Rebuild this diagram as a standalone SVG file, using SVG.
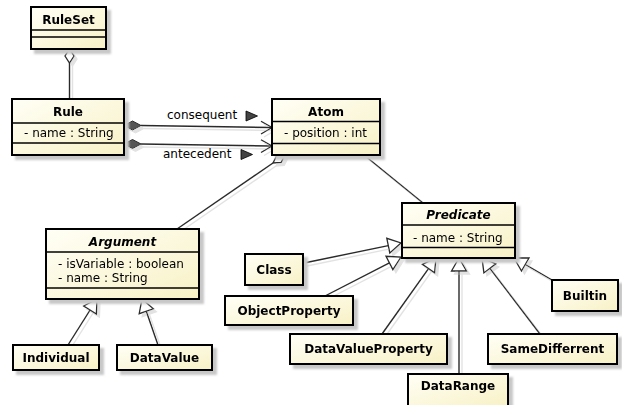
<svg xmlns="http://www.w3.org/2000/svg" width="622" height="405" viewBox="0 0 622 405">
<style>
  .box { fill: url(#cream); stroke: #000; stroke-width: 2; }
  .div { stroke: #000; stroke-width: 1.3; }
  .title { font-family: "DejaVu Sans", "Liberation Sans", sans-serif; font-size: 12px; font-weight: bold; text-anchor: middle; fill: #000; }
  .abs { font-style: italic; }
  .attr { font-family: "DejaVu Sans", "Liberation Sans", sans-serif; font-size: 12px; fill: #000; }
  .lbl { font-family: "DejaVu Sans", "Liberation Sans", sans-serif; font-size: 12px; fill: #000; }
  .conn { fill: none; stroke: #2a2a2a; stroke-width: 1.4; }
  .hollow { fill: #fff; stroke: #2a2a2a; stroke-width: 1.3; stroke-linejoin: miter; }
  .filled { fill: #555; stroke: #2a2a2a; stroke-width: 1; }
  .open { fill: none; stroke: #2a2a2a; stroke-width: 1.3; }
  .dir { fill: #444; stroke: #000; stroke-width: 0.8; }
</style>
<defs>
  <linearGradient id="cream" x1="0" y1="0" x2="1" y2="1">
    <stop offset="0" stop-color="#FFFFF6"/>
    <stop offset="1" stop-color="#F8F1C6"/>
  </linearGradient>
  <filter id="shadow" x="-10%" y="-10%" width="130%" height="140%">
    <feOffset in="SourceAlpha" dx="4" dy="4" result="o"/>
    <feGaussianBlur in="o" stdDeviation="1" result="b"/>
    <feFlood flood-color="#c8c8c8"/>
    <feComposite in2="b" operator="in" result="s"/>
    <feMerge><feMergeNode in="s"/><feMergeNode in="SourceGraphic"/></feMerge>
  </filter>
  <filter id="lshadow" x="-10%" y="-10%" width="130%" height="130%">
    <feOffset in="SourceAlpha" dx="3" dy="3" result="o"/>
    <feFlood flood-color="#e2e2e2"/>
    <feComposite in2="o" operator="in" result="s"/>
    <feMerge><feMergeNode in="s"/><feMergeNode in="SourceGraphic"/></feMerge>
  </filter>
</defs>

<g id="connectors">
  <g filter="url(#lshadow)">
    <!-- RuleSet <>- Rule -->
    <path class="conn" d="M69.5,63 L69.5,99"/>
    <polygon class="hollow" points="69.5,49 74,56 69.5,63 65,56"/>
    <!-- consequent -->
    <path class="conn" d="M141,125.5 L272,127.5"/>
    <polygon class="filled" points="124,125.5 132.5,121 141,125.5 132.5,130"/>
    <polyline class="open" points="261,121.3 272,127.5 261,134"/>
    <!-- antecedent -->
    <path class="conn" d="M141,144 L272,146"/>
    <polygon class="filled" points="124,144 132.5,139.5 141,144 132.5,148.5"/>
    <polyline class="open" points="261,139.8 272,146 261,152.5"/>
    <!-- Atom <>- Argument -->
    <path class="conn" d="M273,163 L177,229"/>
    <polygon class="hollow" points="285,155 281.2,162.3 273,163 276.8,155.7"/>
    <!-- Atom - Predicate -->
    <path class="conn" d="M364,155 L423,203"/>
    <!-- generalizations -->
    <path class="conn" d="M68,345 L90.1,310"/>
    <polygon class="hollow" points="97,299 96.4,314 83.7,306"/>
    <path class="conn" d="M158,345 L146.3,311.3"/>
    <polygon class="hollow" points="142,299 153.35,308.8 139.2,313.7"/>
    <path class="conn" d="M304,263 L388.3,245.6"/>
    <polygon class="hollow" points="401,243 389.8,253 386.8,238.3"/>
    <path class="conn" d="M325,296 L389.4,262.9"/>
    <polygon class="hollow" points="401,257 392.9,269.6 386,256.3"/>
    <path class="conn" d="M382,334 L428.5,268.6"/>
    <polygon class="hollow" points="436,258 434.6,272.9 422.4,264.3"/>
    <path class="conn" d="M459,374 L459,271"/>
    <polygon class="hollow" points="459,258 466.5,271 451.5,271"/>
    <path class="conn" d="M540,334 L489.9,268.3"/>
    <polygon class="hollow" points="482,258 495.85,263.8 483.9,272.9"/>
    <path class="conn" d="M552,280 L525.3,264.5"/>
    <polygon class="hollow" points="514,258 529,258 521.5,271"/>
  </g>
  <g id="labels">
    <text class="lbl" x="167" y="118.5">consequent</text>
    <polygon class="dir" points="246,111 257.5,116 246,121"/>
    <text class="lbl" x="163" y="158">antecedent</text>
    <polygon class="dir" points="241,149.5 252.5,154.5 241,159.5"/>
  </g>
</g>

<g id="RuleSet" filter="url(#shadow)">
  <rect class="box" x="31" y="7" width="75" height="42"/>
  <line class="div" x1="31" y1="30" x2="106" y2="30"/>
  <line class="div" x1="31" y1="37" x2="106" y2="37"/>
  <text class="title" x="68.5" y="24">RuleSet</text>
</g>

<g id="Rule" filter="url(#shadow)">
  <rect class="box" x="12" y="99" width="112" height="56"/>
  <line class="div" x1="12" y1="123" x2="124" y2="123"/>
  <line class="div" x1="12" y1="143" x2="124" y2="143"/>
  <text class="title" x="68" y="116">Rule</text>
  <text class="attr" x="24" y="137">- name : String</text>
</g>

<g id="Atom" filter="url(#shadow)">
  <rect class="box" x="272" y="99" width="108" height="56"/>
  <line class="div" x1="272" y1="121.5" x2="380" y2="121.5"/>
  <line class="div" x1="272" y1="143.5" x2="380" y2="143.5"/>
  <text class="title" x="326" y="116">Atom</text>
  <text class="attr" x="284" y="137">- position : int</text>
</g>

<g id="Argument" filter="url(#shadow)">
  <rect class="box" x="46" y="229" width="153" height="70"/>
  <line class="div" x1="46" y1="252" x2="199" y2="252"/>
  <line class="div" x1="46" y1="288" x2="199" y2="288"/>
  <text class="title abs" x="122.5" y="246">Argument</text>
  <text class="attr" x="58" y="268">- isVariable : boolean</text>
  <text class="attr" x="58" y="282">- name : String</text>
</g>

<g id="Individual" filter="url(#shadow)">
  <rect class="box" x="13" y="345" width="86" height="25"/>
  <text class="title" x="56" y="362">Individual</text>
</g>

<g id="DataValue" filter="url(#shadow)">
  <rect class="box" x="117" y="345" width="95" height="25"/>
  <text class="title" x="164.5" y="362">DataValue</text>
</g>

<g id="Predicate" filter="url(#shadow)">
  <rect class="box" x="402" y="203" width="113" height="55"/>
  <line class="div" x1="402" y1="225" x2="515" y2="225"/>
  <line class="div" x1="402" y1="247.5" x2="515" y2="247.5"/>
  <text class="title abs" x="458.5" y="219">Predicate</text>
  <text class="attr" x="413" y="242">- name : String</text>
</g>

<g id="Class" filter="url(#shadow)">
  <rect class="box" x="245" y="254" width="58" height="31"/>
  <text class="title" x="274" y="274">Class</text>
</g>

<g id="ObjectProperty" filter="url(#shadow)">
  <rect class="box" x="225" y="296" width="128" height="29"/>
  <text class="title" x="289" y="315">ObjectProperty</text>
</g>

<g id="DataValueProperty" filter="url(#shadow)">
  <rect class="box" x="290" y="334" width="157" height="30"/>
  <text class="title" x="368.5" y="353">DataValueProperty</text>
</g>

<g id="SameDifferrent" filter="url(#shadow)">
  <rect class="box" x="488" y="334" width="129" height="30"/>
  <text class="title" x="552.5" y="353">SameDifferrent</text>
</g>

<g id="DataRange" filter="url(#shadow)">
  <rect class="box" x="408" y="374" width="100" height="32"/>
  <text class="title" x="458" y="390">DataRange</text>
</g>

<g id="Builtin" filter="url(#shadow)">
  <rect class="box" x="552" y="280" width="66" height="31"/>
  <text class="title" x="585" y="300">Builtin</text>
</g>
</svg>
